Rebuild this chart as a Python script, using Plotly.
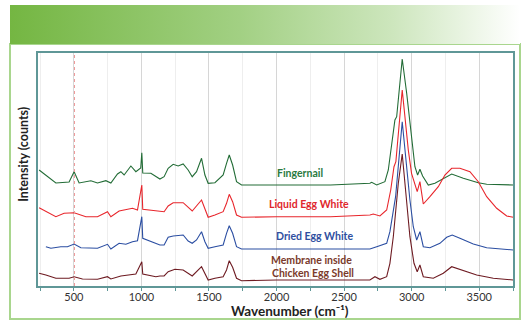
import plotly.graph_objects as go

# ---------------- data ----------------
fing_wn = [243, 367, 465, 502, 539, 626, 675, 737, 774, 823, 848, 872, 922, 959, 995, 1003, 1010,
           1070, 1137, 1168, 1198, 1235, 1272, 1309, 1346, 1376, 1408, 1445, 1470, 1494, 1544, 1605,
           1630, 1650, 1675, 1704, 1741, 2000, 2400, 2691, 2704, 2741, 2802, 2827, 2852, 2876, 2889,
           2930, 2963, 2999, 3024, 3044, 3061, 3081, 3123, 3172, 3234, 3296, 3382, 3493, 3555, 3752]
fing_int = [116, 103, 104, 114.3, 103, 105.3, 103, 105.3, 103, 112, 114.3, 111, 120, 114.3, 118, 133.3, 113,
            112.7, 107, 109.3, 117.7, 121.7, 120, 122, 116, 109.3, 114.3, 127.7, 111, 102.7, 103.3, 111,
            122.7, 131, 121, 104.3, 101, 101, 101, 102.7, 103.7, 101, 104.3, 116, 139.3, 166, 169.3,
            227, 192.7, 153, 119.3, 111, 116.7, 110, 101, 102.7, 107.7, 112, 107.7, 103.3, 101.7, 101]

liq_wn = [243, 367, 428, 502, 589, 675, 749, 774, 835, 872, 934, 971, 1003, 1010, 1107, 1137, 1168,
          1198, 1235, 1309, 1346, 1376, 1445, 1470, 1494, 1544, 1605, 1630, 1650, 1675, 1704, 1741,
          2000, 2400, 2691, 2716, 2765, 2815, 2845, 2869, 2883, 2930, 2957, 2975, 2999, 3024, 3041,
          3061, 3086, 3135, 3197, 3246, 3296, 3357, 3431, 3493, 3555, 3629, 3703, 3752]
liq_int = [78.3, 69.3, 72.7, 73.3, 69.3, 69.3, 74.3, 69.3, 75, 76, 77.7, 76, 101, 76.7, 75.3, 74.3, 74.3,
           80, 83.3, 83.3, 78.7, 75, 86, 76, 68.7, 71, 74.3, 82.7, 91.7, 84.3, 71, 68.7,
           69.3, 69.3, 71, 72, 70, 76, 96, 119.3, 124.3, 196, 159.3, 136, 112.7, 101, 94.3,
           104.3, 82, 89.3, 99.3, 111, 117.7, 117.7, 114.3, 104.3, 89.3, 77.7, 70, 68.7]

dry_wn = [293, 330, 404, 453, 502, 552, 675, 749, 774, 835, 885, 934, 971, 1003, 1010, 1070, 1137,
          1168, 1198, 1235, 1309, 1346, 1376, 1408, 1445, 1470, 1494, 1544, 1605, 1630, 1650, 1675,
          1704, 1741, 2000, 2400, 2691, 2741, 2815, 2839, 2864, 2881, 2930, 2957, 2987, 3012, 3037,
          3061, 3086, 3135, 3209, 3259, 3300, 3357, 3456, 3555, 3752]
dry_int = [39.3, 37.7, 39.3, 39.3, 42, 38.3, 37.7, 41.7, 37, 42.7, 41.7, 44.3, 45.3, 69.3, 47.7, 44.3, 41,
           41, 48.7, 50, 51, 45, 42.7, 46, 54.3, 44.3, 37.7, 39.3, 41, 52.7, 60.3, 52.7,
           39.3, 37, 37, 37, 37, 39.3, 42.7, 54.3, 76, 89.3, 164.3, 126, 86, 59.3, 46,
           54.3, 39.3, 38.3, 42.7, 48.7, 51, 47.7, 42, 38.3, 36]

mem_wn = [243, 293, 367, 465, 502, 564, 675, 749, 774, 848, 959, 1003, 1010, 1107, 1137, 1168, 1198,
          1248, 1309, 1346, 1376, 1445, 1470, 1494, 1544, 1605, 1630, 1650, 1675, 1704, 1741, 2000,
          2400, 2691, 2728, 2765, 2815, 2839, 2864, 2876, 2901, 2930, 2957, 2987, 3017, 3041, 3061,
          3086, 3160, 3234, 3296, 3382, 3481, 3604, 3752]
mem_int = [12.7, 11, 7.7, 7.7, 9.3, 7, 6.7, 9.3, 7, 10, 12, 24.3, 12, 9.3, 10, 10, 14.3,
           16.7, 16, 12.7, 10, 19.3, 12, 6, 7.7, 9.3, 16, 25.3, 18.7, 7.7, 5.3, 6,
           6, 6, 9.3, 6.7, 9.3, 22.7, 49.3, 67.7, 102.7, 132, 96, 49.3, 22.7, 14.3, 21,
           9.3, 7.7, 12.7, 19.3, 15.3, 11, 7.7, 6]

x_ticks = [500, 1000, 1500, 2000, 2500, 3000, 3500]
labels = ["Fingernail", "Liquid Egg White", "Dried Egg White", "Membrane inside", "Chicken Egg Shell"]

# ---------------- figure ----------------
W, H = 528, 328
def px(x):
    return x / W
def py(y):
    return 1 - y / H

FONT = "Lato"
fig = go.Figure()

series = [
    (fing_wn, fing_int, "#226c36"),
    (liq_wn, liq_int, "#e8262c"),
    (dry_wn, dry_int, "#2b4ea2"),
    (mem_wn, mem_int, "#6e1b22"),
]
for xs, ys, c in series:
    fig.add_trace(go.Scatter(x=xs, y=ys, mode="lines", line=dict(color=c, width=1.1),
                             hoverinfo="skip", showlegend=False, xaxis="x", yaxis="y"))

# header gradient band (separate full-page pixel axes)
fig.add_trace(go.Scatter(x=[10, 520, 520, 10, 10], y=[5, 5, 44, 44, 5], mode="lines",
                         line=dict(width=0), fill="toself",
                         fillgradient=dict(type="horizontal",
                                           colorscale=[[0, "#74b642"], [0.45, "#a2d083"], [0.75, "#cde6bd"], [1, "#ffffff"]]),
                         hoverinfo="skip", showlegend=False, xaxis="x2", yaxis="y2"))

frame = "#5f9797"
fig.update_layout(
    width=W, height=H,
    margin=dict(l=0, r=0, t=0, b=0),
    paper_bgcolor="white", plot_bgcolor="rgba(0,0,0,0)",
    showlegend=False,
    xaxis=dict(domain=[px(38.3), px(513.3)], range=[237, 3752], tickvals=x_ticks,
               ticks="outside", ticklen=3, tickcolor=frame, ticklabelstandoff=-3,
               tickfont=dict(family=FONT, size=11, color="#333333"),
               showgrid=True, gridcolor="#d6d6d6", gridwidth=1,
               minor=dict(dtick=250, tick0=0, showgrid=True, gridcolor="#eeeeee", ticks="outside",
                          ticklen=3, tickcolor=frame),
               showline=True, linecolor=frame, linewidth=1.5, mirror=True,
               zeroline=False, automargin=False, anchor="y"),
    yaxis=dict(domain=[py(286), py(53.3)], range=[0, 232.7], showticklabels=False, ticks="",
               showgrid=False, zeroline=False, showline=True, linecolor=frame, linewidth=1.5,
               mirror=True, automargin=False, anchor="x"),
    xaxis2=dict(domain=[0, 1], range=[0, W], visible=False, anchor="y2", fixedrange=True),
    yaxis2=dict(domain=[0, 1], range=[H, 0], visible=False, anchor="x2", fixedrange=True),
)

# outer green frame
fig.add_shape(type="rect", xref="paper", yref="paper", x0=px(10), x1=px(520), y0=py(44), y1=py(319),
              line=dict(color="#a9d68e", width=2), fillcolor="rgba(0,0,0,0)", layer="below")
# red dashed marker near 500
fig.add_shape(type="line", xref="x", yref="y domain", x0=505, x1=505, y0=0, y1=1,
              line=dict(color="#ee9a9a", width=1, dash="dot"))

ann = [
    (labels[0], 299.5, 173, "#2a7a3f", 10.5),
    (labels[1], 308.5, 204.3, "#e0262c", 10.5),
    (labels[2], 314, 236, "#2f4f9f", 10.5),
    (labels[3], 311, 260, "#7b3a2a", 10.5),
    (labels[4], 313, 272.8, "#7b3a2a", 10.5),
]
for t, x, y, c, s in ann:
    fig.add_annotation(text="<b>%s</b>" % t, xref="paper", yref="paper", x=px(x), y=py(y),
                       xanchor="center", yanchor="middle", showarrow=False,
                       font=dict(family=FONT, size=s, color=c))

fig.add_annotation(text="<b>Wavenumber (cm\u207b\u00b9)</b>", xref="paper", yref="paper",
                   x=px(290), y=py(311), xanchor="center", yanchor="middle", showarrow=False,
                   font=dict(family=FONT, size=13.5, color="#222222"))
fig.add_annotation(text="<b>Intensity (counts)</b>", xref="paper", yref="paper", textangle=-90,
                   x=px(22.8), y=py(154), xanchor="center", yanchor="middle", showarrow=False,
                   font=dict(family=FONT, size=12.5, color="#222222"))

fig.write_html("out.html", config={"displayModeBar": False})
